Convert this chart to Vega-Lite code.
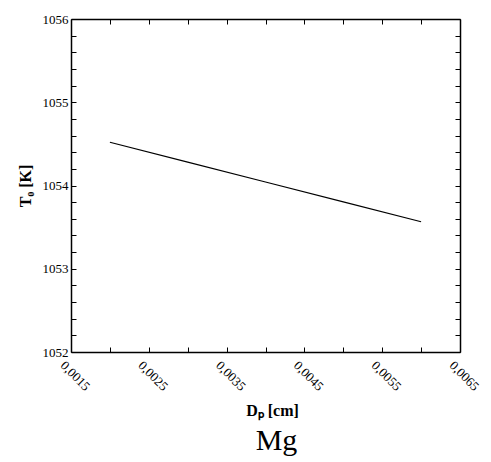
{
  "$schema": "https://vega.github.io/schema/vega-lite/v6.json",
  "width": 389,
  "height": 333,
  "autosize": "none",
  "padding": {"left": 71, "top": 19, "right": 31, "bottom": 110},
  "data": {"values": [
    {"Dp": 0.002, "T0": 1054.52},
    {"Dp": 0.003, "T0": 1054.281},
    {"Dp": 0.004, "T0": 1054.042},
    {"Dp": 0.005, "T0": 1053.804},
    {"Dp": 0.006, "T0": 1053.565}
  ]},
  "title": {"text": "Mg", "orient": "bottom", "font": "Times New Roman", "fontSize": 30, "fontWeight": "normal", "color": "black", "offset": 8, "dx": 11},
  "config": {
    "view": {"stroke": null}
  },
  "layer": [
    {
      "mark": {"type": "line", "color": "black", "strokeWidth": 1.2},
      "encoding": {
        "x": {"field": "Dp", "type": "quantitative", "scale": {"domain": [0.0015, 0.0065], "nice": false, "zero": false},
          "axis": {"orient": "bottom", "grid": false, "domainColor": "black", "domainWidth": 1.5, "tickColor": "black", "labelFont": "Times New Roman", "labelFontSize": 13, "labelColor": "black", "titleFont": "Times New Roman", "titleColor": "black", "titleFontWeight": "bold", "titleFontSize": 16, "values": [0.0015, 0.002, 0.0025, 0.003, 0.0035, 0.004, 0.0045, 0.005, 0.0055, 0.006, 0.0065], "tickSize": -5, "labelPadding": 16, "labelOffset": -9, "labelAngle": 45, "labelAlign": "left", "labelBaseline": "middle", "labelExpr": "slice(format(datum.value, '.4f'), -1) == '5' ? replace(format(datum.value, '.4f'), '.', ',') : ''", "labelOverlap": false, "labelBound": false, "labelFlush": false, "title": "Dₚ  [cm]", "titlePadding": 9, "titleX": 201}},
        "y": {"field": "T0", "type": "quantitative", "scale": {"domain": [1052, 1056], "nice": false, "zero": false},
          "axis": {"orient": "left", "grid": false, "domainColor": "black", "domainWidth": 1.5, "tickColor": "black", "labelFont": "Times New Roman", "labelFontSize": 13, "labelColor": "black", "titleFont": "Times New Roman", "titleColor": "black", "titleFontWeight": "bold", "titleFontSize": 16, "values": [1052, 1052.2, 1052.4, 1052.6, 1052.8, 1053, 1053.2, 1053.4, 1053.6, 1053.8, 1054, 1054.2, 1054.4, 1054.6, 1054.8, 1055, 1055.2, 1055.4, 1055.6, 1055.8, 1056], "tickSize": -5, "labelPadding": 8, "labelExpr": "slice(format(datum.value, '.1f'), -1) == '0' ? format(datum.value, 'd') : ''", "labelOverlap": false, "labelFlush": false, "title": "T₀  [K]", "titlePadding": 9}}
      }
    },
    {
      "mark": {"type": "line", "opacity": 0},
      "encoding": {
        "x": {"field": "Dp", "type": "quantitative",
          "axis": {"orient": "top", "grid": false, "domainColor": "black", "domainWidth": 1.5, "tickColor": "black", "values": [0.0015, 0.002, 0.0025, 0.003, 0.0035, 0.004, 0.0045, 0.005, 0.0055, 0.006, 0.0065], "tickSize": -5, "labels": false, "title": null}},
        "y": {"field": "T0", "type": "quantitative",
          "axis": {"orient": "right", "grid": false, "domainColor": "black", "domainWidth": 1.5, "tickColor": "black", "values": [1052, 1052.2, 1052.4, 1052.6, 1052.8, 1053, 1053.2, 1053.4, 1053.6, 1053.8, 1054, 1054.2, 1054.4, 1054.6, 1054.8, 1055, 1055.2, 1055.4, 1055.6, 1055.8, 1056], "tickSize": -5, "labels": false, "title": null}}
      }
    }
  ],
  "resolve": {"axis": {"x": "independent", "y": "independent"}}
}
